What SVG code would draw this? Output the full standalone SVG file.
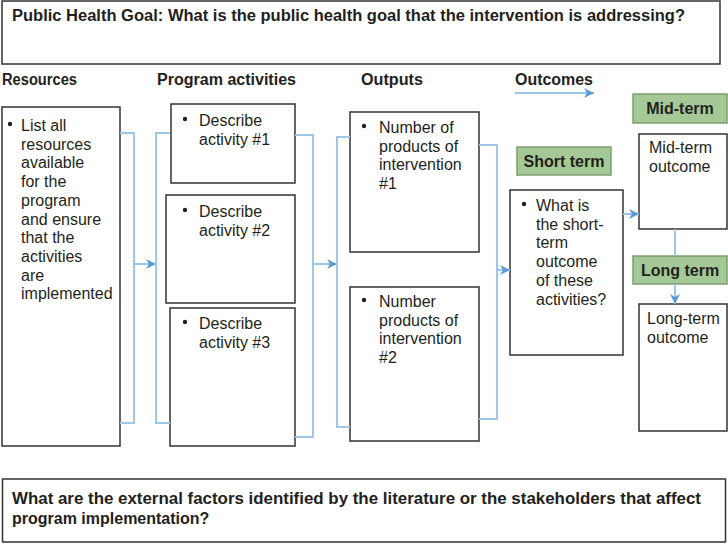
<svg xmlns="http://www.w3.org/2000/svg" width="728" height="544" viewBox="0 0 728 544">
<style>
.box{fill:#fff;stroke:#333;stroke-width:1.5}
.lbl{fill:#a5c996;stroke:#7b9f6c;stroke-width:1.5}
.t{font-family:"Liberation Sans",Arial,sans-serif;font-size:16px;fill:#231f20}
.b{font-family:"Liberation Sans",Arial,sans-serif;font-size:16px;font-weight:bold;fill:#231f20}
.c{fill:none;stroke:#9fc5e8;stroke-width:2}
.dot{fill:#231f20}
</style>
<defs>
<marker id="ah" markerUnits="userSpaceOnUse" markerWidth="12" markerHeight="12" refX="10" refY="5" orient="auto">
<path d="M0,0 L10,5 L0,10 L3,5 Z" fill="#5b9bd5"/>
</marker>
</defs>

<g id="goal">
<rect class="box" x="2" y="1" width="718" height="63"/>
<text class="b" x="12" y="21" textLength="673" lengthAdjust="spacingAndGlyphs">Public Health Goal: What is the public health goal that the intervention is addressing?</text>
</g>

<g id="headers">
<text class="b" x="2" y="85" textLength="75" lengthAdjust="spacingAndGlyphs">Resources</text>
<text class="b" x="157" y="85" textLength="139" lengthAdjust="spacingAndGlyphs">Program activities</text>
<text class="b" x="361" y="85" textLength="62" lengthAdjust="spacingAndGlyphs">Outputs</text>
<text class="b" x="515" y="85" textLength="78" lengthAdjust="spacingAndGlyphs">Outcomes</text>
</g>

<g id="resources">
<rect class="box" x="2" y="107" width="118" height="339"/>
<circle class="dot" cx="10" cy="124" r="2.2"/>
<text class="t" x="21" y="131">List all</text>
<text class="t" x="21" y="149.7">resources</text>
<text class="t" x="21" y="168.4">available</text>
<text class="t" x="21" y="187.1">for the</text>
<text class="t" x="21" y="205.8">program</text>
<text class="t" x="21" y="224.5">and ensure</text>
<text class="t" x="21" y="243.2">that the</text>
<text class="t" x="21" y="261.9">activities</text>
<text class="t" x="21" y="280.6">are</text>
<text class="t" x="21" y="299.3">implemented</text>
</g>

<g id="activity1">
<rect class="box" x="171" y="104" width="124" height="79"/>
<circle class="dot" cx="185" cy="119" r="2.2"/>
<text class="t" x="199" y="126">Describe</text>
<text class="t" x="199" y="144.7">activity #1</text>
</g>
<g id="activity2">
<rect class="box" x="166" y="195" width="129" height="108"/>
<circle class="dot" cx="185" cy="210" r="2.2"/>
<text class="t" x="199" y="217">Describe</text>
<text class="t" x="199" y="235.7">activity #2</text>
</g>
<g id="activity3">
<rect class="box" x="170" y="308" width="125" height="138"/>
<circle class="dot" cx="185" cy="322" r="2.2"/>
<text class="t" x="199" y="329">Describe</text>
<text class="t" x="199" y="347.7">activity #3</text>
</g>

<g id="output1">
<rect class="box" x="350" y="112" width="129" height="140"/>
<circle class="dot" cx="364" cy="126" r="2.2"/>
<text class="t" x="379" y="133">Number of</text>
<text class="t" x="379" y="151.7">products of</text>
<text class="t" x="379" y="170.4">intervention</text>
<text class="t" x="379" y="189.1">#1</text>
</g>
<g id="output2">
<rect class="box" x="350" y="287" width="129" height="154"/>
<circle class="dot" cx="364" cy="300" r="2.2"/>
<text class="t" x="379" y="307">Number</text>
<text class="t" x="379" y="325.7">products of</text>
<text class="t" x="379" y="344.4">intervention</text>
<text class="t" x="379" y="363.1">#2</text>
</g>

<g id="short-term-label">
<rect class="lbl" x="517" y="147" width="94" height="28"/>
<text class="b" x="564" y="167" text-anchor="middle">Short term</text>
</g>
<g id="short-term">
<rect class="box" x="510" y="190" width="113" height="165"/>
<circle class="dot" cx="524" cy="204" r="2.2"/>
<text class="t" x="536" y="211">What is</text>
<text class="t" x="536" y="229.7">the short-</text>
<text class="t" x="536" y="248.4">term</text>
<text class="t" x="536" y="267.1">outcome</text>
<text class="t" x="536" y="285.8">of these</text>
<text class="t" x="536" y="304.5">activities?</text>
</g>

<g id="mid-term-label">
<rect class="lbl" x="633" y="94" width="94" height="29"/>
<text class="b" x="680" y="114" text-anchor="middle">Mid-term</text>
</g>
<g id="mid-term">
<rect class="box" x="639" y="134" width="88" height="95"/>
<text class="t" x="649" y="153">Mid-term</text>
<text class="t" x="649" y="171.7">outcome</text>
</g>

<g id="long-term-label">
<rect class="lbl" x="633" y="256" width="94" height="28"/>
<text class="b" x="680" y="276" text-anchor="middle">Long term</text>
</g>
<g id="long-term">
<rect class="box" x="639" y="304" width="88" height="127"/>
<text class="t" x="647" y="324">Long-term</text>
<text class="t" x="647" y="342.7">outcome</text>
</g>

<g id="external">
<rect class="box" x="2.5" y="479" width="723" height="63"/>
<text class="b" x="12" y="504" textLength="689" lengthAdjust="spacingAndGlyphs">What are the external factors identified by the literature or the stakeholders that affect</text>
<text class="b" x="12" y="524">program implementation?</text>
</g>

<g id="connectors">
<path class="c" d="M515,93 H594" marker-end="url(#ah)"/>
<path class="c" d="M120,133 H134 V423 H120"/>
<path class="c" d="M134,264 H156" marker-end="url(#ah)"/>
<path class="c" d="M170,133 H156 V423 H170"/>
<path class="c" d="M295,135 H313 V437 H295"/>
<path class="c" d="M313,264 H337" marker-end="url(#ah)"/>
<path class="c" d="M350,137 H337 V427 H350"/>
<path class="c" d="M479,145 H497 V419 H479"/>
<path class="c" d="M497,270 H510" marker-end="url(#ah)"/>
<path class="c" d="M623,214 H639" marker-end="url(#ah)"/>
<path class="c" d="M675,229 V256"/>
<path class="c" d="M675,284 V304" marker-end="url(#ah)"/>
</g>
</svg>
